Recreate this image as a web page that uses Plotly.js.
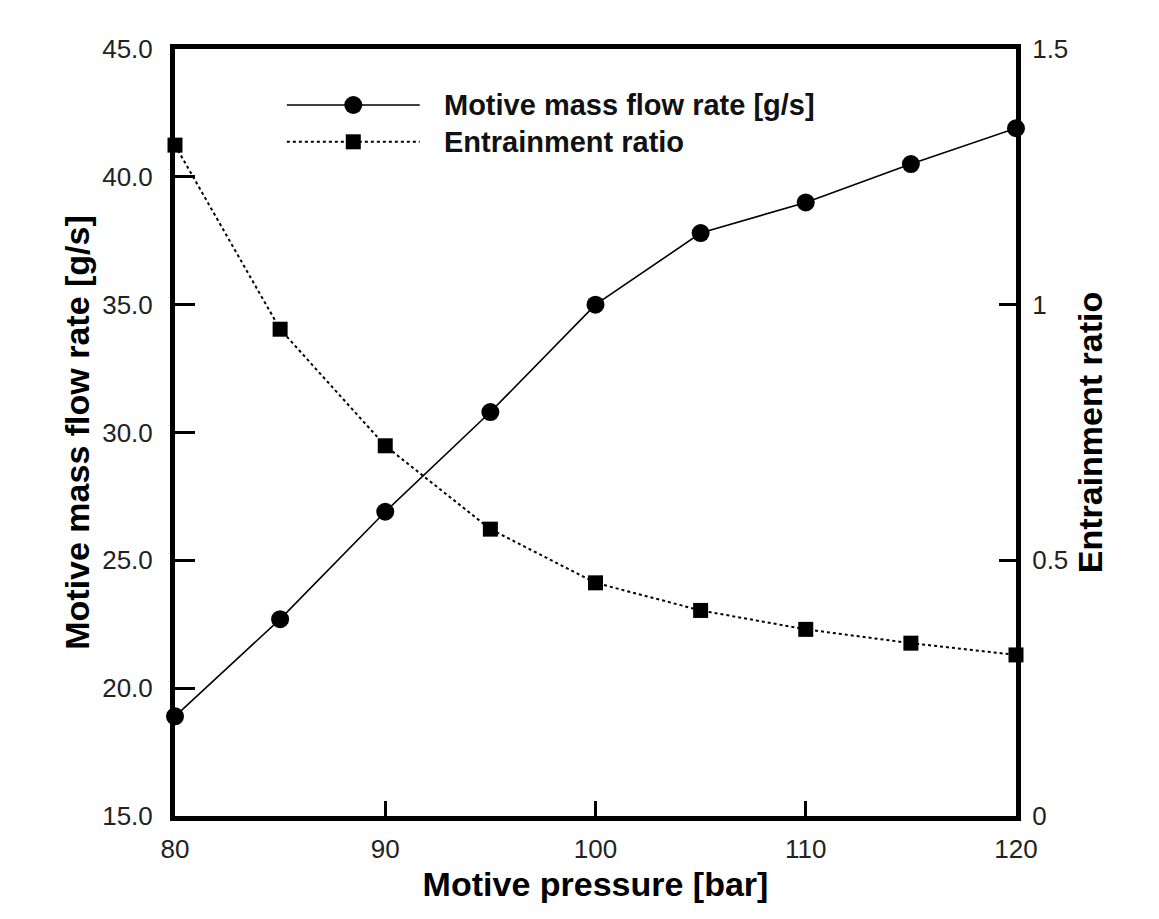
<!DOCTYPE html>
<html>
<head>
<meta charset="utf-8">
<script src="https://cdn.plot.ly/plotly-3.0.1.min.js"></script>
<style>
html,body{margin:0;padding:0;background:#fff;}
#chart{width:1159px;height:919px;}
</style>
</head>
<body>
<div id="chart"></div>
<script>
// Data
const pressure = [80, 85, 90, 95, 100, 105, 110, 115, 120];
const motiveMassFlow = [18.9, 22.7, 26.9, 30.8, 35.0, 37.8, 39.0, 40.5, 41.9];
const entrainmentRatio = [1.312, 0.952, 0.724, 0.561, 0.456, 0.402, 0.365, 0.338, 0.315];

const seriesNames = ['Motive mass flow rate [g/s]', 'Entrainment ratio'];
const xTitle = 'Motive pressure [bar]';
const y1Title = 'Motive mass flow rate [g/s]';
const y2Title = 'Entrainment ratio';

const tickFont = {family: '"Liberation Sans Narrow", "Liberation Sans", Arial, sans-serif', size: 26, color: '#222'};
const titleFont = {family: '"Liberation Sans", Arial, sans-serif', size: 34, color: '#000', weight: 'bold'};
const legendFont = {family: '"Liberation Sans", Arial, sans-serif', size: 29, color: '#111', weight: 'bold'};

const traces = [
  {
    x: pressure, y: motiveMassFlow, name: seriesNames[0], type: 'scatter', mode: 'lines+markers',
    line: {color: '#000', width: 1.6, dash: 'solid'},
    marker: {symbol: 'circle', size: 18, color: '#000'},
    cliponaxis: false, showlegend: false, yaxis: 'y'
  },
  {
    x: pressure, y: entrainmentRatio, name: seriesNames[1], type: 'scatter', mode: 'lines+markers',
    line: {color: '#000', width: 2, dash: 'dot'},
    marker: {symbol: 'square', size: 15, color: '#000'},
    cliponaxis: false, showlegend: false, yaxis: 'y2'
  }
];

// legend drawn as shapes + annotations (paper coordinates)
const legRows = [0.927, 0.879];
const legX0 = 0.133, legX1 = 0.291, legXm = 0.212, legTx = 0.318;

const layout = {
  width: 1159, height: 919,
  margin: {l: 175, r: 143, t: 49, b: 103, pad: 0},
  paper_bgcolor: '#fff', plot_bgcolor: '#fff',
  showlegend: false,
  xaxis: {
    range: [80, 120], dtick: 10, tick0: 80,
    showline: true, linewidth: 5, linecolor: '#000', mirror: true,
    ticks: 'inside', ticklen: 15, tickwidth: 3, tickcolor: '#000',
    showgrid: false, zeroline: false,
    tickfont: tickFont, ticklabelstandoff: 6,
    title: {text: xTitle, font: titleFont, standoff: 10}
  },
  yaxis: {
    range: [15, 45], dtick: 5, tick0: 15, tickformat: '.1f',
    showline: true, linewidth: 5, linecolor: '#000',
    ticks: 'inside', ticklen: 20, tickwidth: 3, tickcolor: '#000',
    showgrid: false, zeroline: false,
    tickfont: tickFont, ticklabelstandoff: 12,
    title: {text: y1Title, font: titleFont, standoff: 4}
  },
  yaxis2: {
    range: [0, 1.5], dtick: 0.5, tick0: 0, overlaying: 'y', side: 'right',
    showline: true, linewidth: 5, linecolor: '#000',
    ticks: 'inside', ticklen: 17, tickwidth: 3, tickcolor: '#000',
    showgrid: false, zeroline: false,
    tickfont: tickFont, ticklabelstandoff: 6,
    title: {text: y2Title, font: titleFont, standoff: 12}
  },
  shapes: [
    {type: 'line', xref: 'paper', yref: 'paper', x0: legX0, x1: legX1, y0: legRows[0], y1: legRows[0],
     line: {color: '#000', width: 1.6}},
    {type: 'line', xref: 'paper', yref: 'paper', x0: legX0, x1: legX1, y0: legRows[1], y1: legRows[1],
     line: {color: '#000', width: 2, dash: 'dot'}},
    {type: 'circle', xref: 'paper', yref: 'paper', xsizemode: 'pixel', ysizemode: 'pixel',
     xanchor: legXm, yanchor: legRows[0], x0: -9, x1: 9, y0: -9, y1: 9,
     fillcolor: '#000', line: {width: 0}},
    {type: 'rect', xref: 'paper', yref: 'paper', xsizemode: 'pixel', ysizemode: 'pixel',
     xanchor: legXm, yanchor: legRows[1], x0: -7.5, x1: 7.5, y0: -7.5, y1: 7.5,
     fillcolor: '#000', line: {width: 0}}
  ],
  annotations: [
    {xref: 'paper', yref: 'paper', x: legTx, y: legRows[0], xanchor: 'left', yanchor: 'middle',
     text: seriesNames[0], showarrow: false, font: legendFont},
    {xref: 'paper', yref: 'paper', x: legTx, y: legRows[1], xanchor: 'left', yanchor: 'middle',
     text: seriesNames[1], showarrow: false, font: legendFont}
  ]
};

Plotly.newPlot('chart', traces, layout, {staticPlot: true, displayModeBar: false});
</script>
</body>
</html>
